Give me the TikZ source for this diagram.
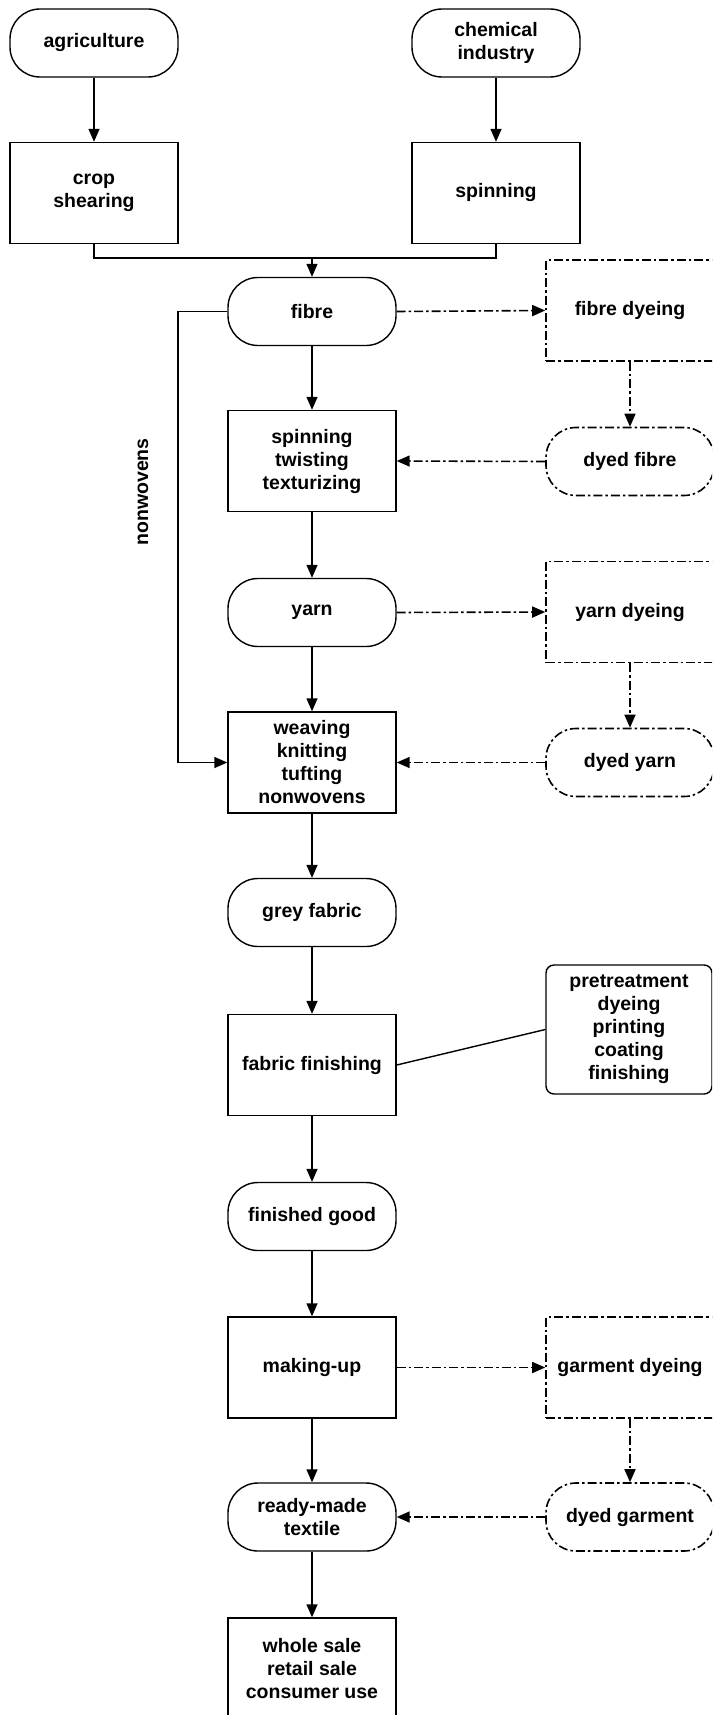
\documentclass[tikz,border=0pt]{standalone}
\usepackage{fontspec}
\setmainfont{Liberation Sans}
\usetikzlibrary{arrows.meta}

\tikzset{
  boxbase/.style={draw, line width=1.4pt, align=center, inner sep=0pt,
    font=\fontsize{19.5}{23}\selectfont\bfseries, minimum width=168pt},
  procbox/.style={boxbase, minimum height=101pt},
  termbox/.style={boxbase, rounded corners=30pt, minimum height=68pt},
  dotdash/.style={line width=1.6pt, dash pattern=on 9pt off 3pt on 2.5pt off 3pt},
  dyebox/.style={procbox, dotdash},
  dyeterm/.style={termbox, dotdash},
  plain/.style={line width=1.4pt},
  flow/.style={plain, -{Triangle[length=13pt,width=11pt]}},
  dyeflow/.style={flow, dotdash},
}

\begin{document}
\begin{tikzpicture}[x=1pt,y=-1pt]
  \useasboundingbox (0,0) rectangle (712,1715);
  \clip (0,0) rectangle (712,1715);

  % sources
  \node[termbox] (agri) at (94,43) {agriculture};
  \node[termbox] (chem) at (496,43) {chemical\\industry};
  \node[procbox] (crop) at (94,193) {crop\\shearing};
  \node[procbox] (spin) at (496,193) {spinning};
  \coordinate (join) at (312,258);

  % main line
  \node[termbox] (fibre) at (312,311.5) {fibre};
  \node[procbox] (twist) at (312,461) {spinning\\twisting\\texturizing};
  \node[termbox] (yarn) at (312,612.5) {yarn};
  \node[procbox] (weave) at (312,762.5) {weaving\\knitting\\tufting\\nonwovens};
  \node[termbox] (grey) at (312,912.5) {grey fabric};
  \node[procbox] (finish) at (312,1065) {fabric finishing};
  \node[termbox] (good) at (312,1216.5) {finished good};
  \node[procbox] (makeup) at (312,1367.5) {making-up};
  \node[termbox] (ready) at (312,1517) {ready-made\\textile};
  \node[procbox] (sale) at (312,1668.5) {whole sale\\retail sale\\consumer use};

  % dyeing side
  \node[dyebox] (fibredye) at (630,310.5) {fibre dyeing};
  \node[dyeterm] (dyedfibre) at (630,461.5) {dyed fibre};
  \node[dyebox] (yarndye) at (630,612) {yarn dyeing};
  \node[dyeterm] (dyedyarn) at (630,762.5) {dyed yarn};
  \node[boxbase, rounded corners=8pt, minimum width=166pt, minimum height=129pt]
    (treat) at (629,1029.5) {pretreatment\\dyeing\\printing\\coating\\finishing};
  \node[dyebox] (garmdye) at (630,1367.5) {garment dyeing};
  \node[dyeterm] (dyedgarm) at (630,1517) {dyed garment};

  % nonwovens by-pass
  \coordinate (nwtop) at (178,311.5);
  \coordinate (nwbot) at (178,762.5);
  \node[rotate=90, font=\fontsize{19.5}{23}\selectfont\bfseries] (nwlabel) at (143,492) {nonwovens};

  \draw[flow] (agri) -- (crop);
  \draw[flow] (chem) -- (spin);
  \draw[plain] (crop.south) |- (join) -| (spin.south);
  \draw[flow] (join) -- (fibre);
  \draw[flow] (fibre) -- (twist);
  \draw[flow] (twist) -- (yarn);
  \draw[flow] (yarn) -- (weave);
  \draw[flow] (weave) -- (grey);
  \draw[flow] (grey) -- (finish);
  \draw[flow] (finish) -- (good);
  \draw[flow] (good) -- (makeup);
  \draw[flow] (makeup) -- (ready);
  \draw[flow] (ready) -- (sale);
  \draw[flow] (fibre.west) -- (nwtop) -- (nwbot) -- (weave.west);

  \draw[dyeflow] (fibre.east) -- (fibredye.west);
  \draw[dyeflow] (fibredye) -- (dyedfibre);
  \draw[dyeflow] (dyedfibre.west) -- (twist.east);
  \draw[dyeflow] (yarn.east) -- (yarndye.west);
  \draw[dyeflow] (yarndye) -- (dyedyarn);
  \draw[dyeflow] (dyedyarn.west) -- (weave.east);
  \draw[plain] (finish.east) -- (treat.west);
  \draw[dyeflow] (makeup.east) -- (garmdye.west);
  \draw[dyeflow] (garmdye) -- (dyedgarm);
  \draw[dyeflow] (dyedgarm.west) -- (ready.east);
\end{tikzpicture}
\end{document}
